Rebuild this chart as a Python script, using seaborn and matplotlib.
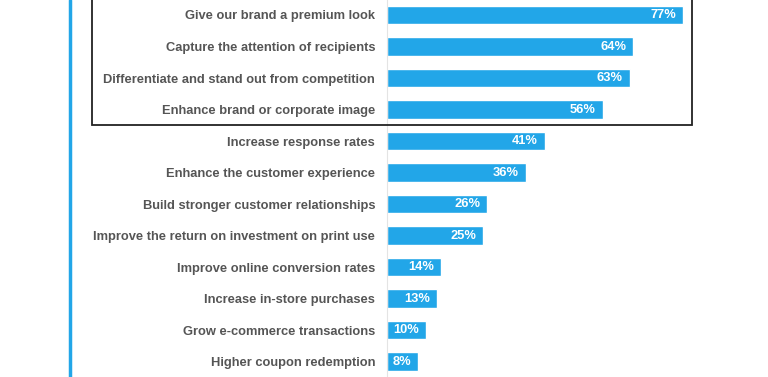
import matplotlib
matplotlib.use("Agg")
import matplotlib.pyplot as plt
import seaborn as sns
import pandas as pd
from matplotlib.patches import Rectangle
from matplotlib.lines import Line2D

categories = [
    "Give our brand a premium look",
    "Capture the attention of recipients",
    "Differentiate and stand out from competition",
    "Enhance brand or corporate image",
    "Increase response rates",
    "Enhance the customer experience",
    "Build stronger customer relationships",
    "Improve the return on investment on print use",
    "Improve online conversion rates",
    "Increase in-store purchases",
    "Grow e-commerce transactions",
    "Higher coupon redemption",
]
values = [77, 64, 63, 56, 41, 36, 26, 25, 14, 13, 10, 8]
value_labels = [f"{v}%" for v in values]

df = pd.DataFrame({"category": categories, "value": values})

sns.set_theme(style="white")
plt.rcParams["font.family"] = ["Liberation Sans", "DejaVu Sans"]

W, H = 768, 377
fig = plt.figure(figsize=(W / 100, H / 100), dpi=100)
fig.patch.set_facecolor("white")

left_px = 387
ax = fig.add_axes([left_px / W, 0, 1 - left_px / W, 1])
blue = "#22A6E8"
sns.barplot(data=df, y="category", x="value", orient="h", color=blue,
            saturation=1, width=0.59, ax=ax)

ax.set_xlim(0, (W - left_px) / 3.85)
ax.set_ylim(11.49, -0.476)
ax.set_xlabel("")
ax.set_ylabel("")
ax.set_xticks([])
ax.tick_params(axis="y", length=0, pad=8.5)
for lbl in ax.get_yticklabels():
    lbl.set_fontsize(9.3)
    lbl.set_fontweight("bold")
    lbl.set_color("#555555")
for s in ["top", "right", "bottom"]:
    ax.spines[s].set_visible(False)
ax.spines["left"].set_color("#e4e4e4")
ax.spines["left"].set_linewidth(0.8)

for i, (v, t) in enumerate(zip(values, value_labels)):
    ax.annotate(t, xy=(v, i), xytext=(-5, 0), textcoords="offset points",
                ha="right", va="center", color="white", fontsize=9.3,
                fontweight="bold")

# left blue vertical rule
fig.add_artist(Line2D([70 / W, 70 / W], [0, 1], transform=fig.transFigure,
                      color=blue, linewidth=2.5))
# black box around top four
fig.add_artist(Rectangle((92 / W, 1 - 125 / H), 600 / W, 126 / H,
                         transform=fig.transFigure, fill=False,
                         edgecolor="#222222", linewidth=1.3))

fig.savefig("out.png", dpi=100, facecolor="white")
